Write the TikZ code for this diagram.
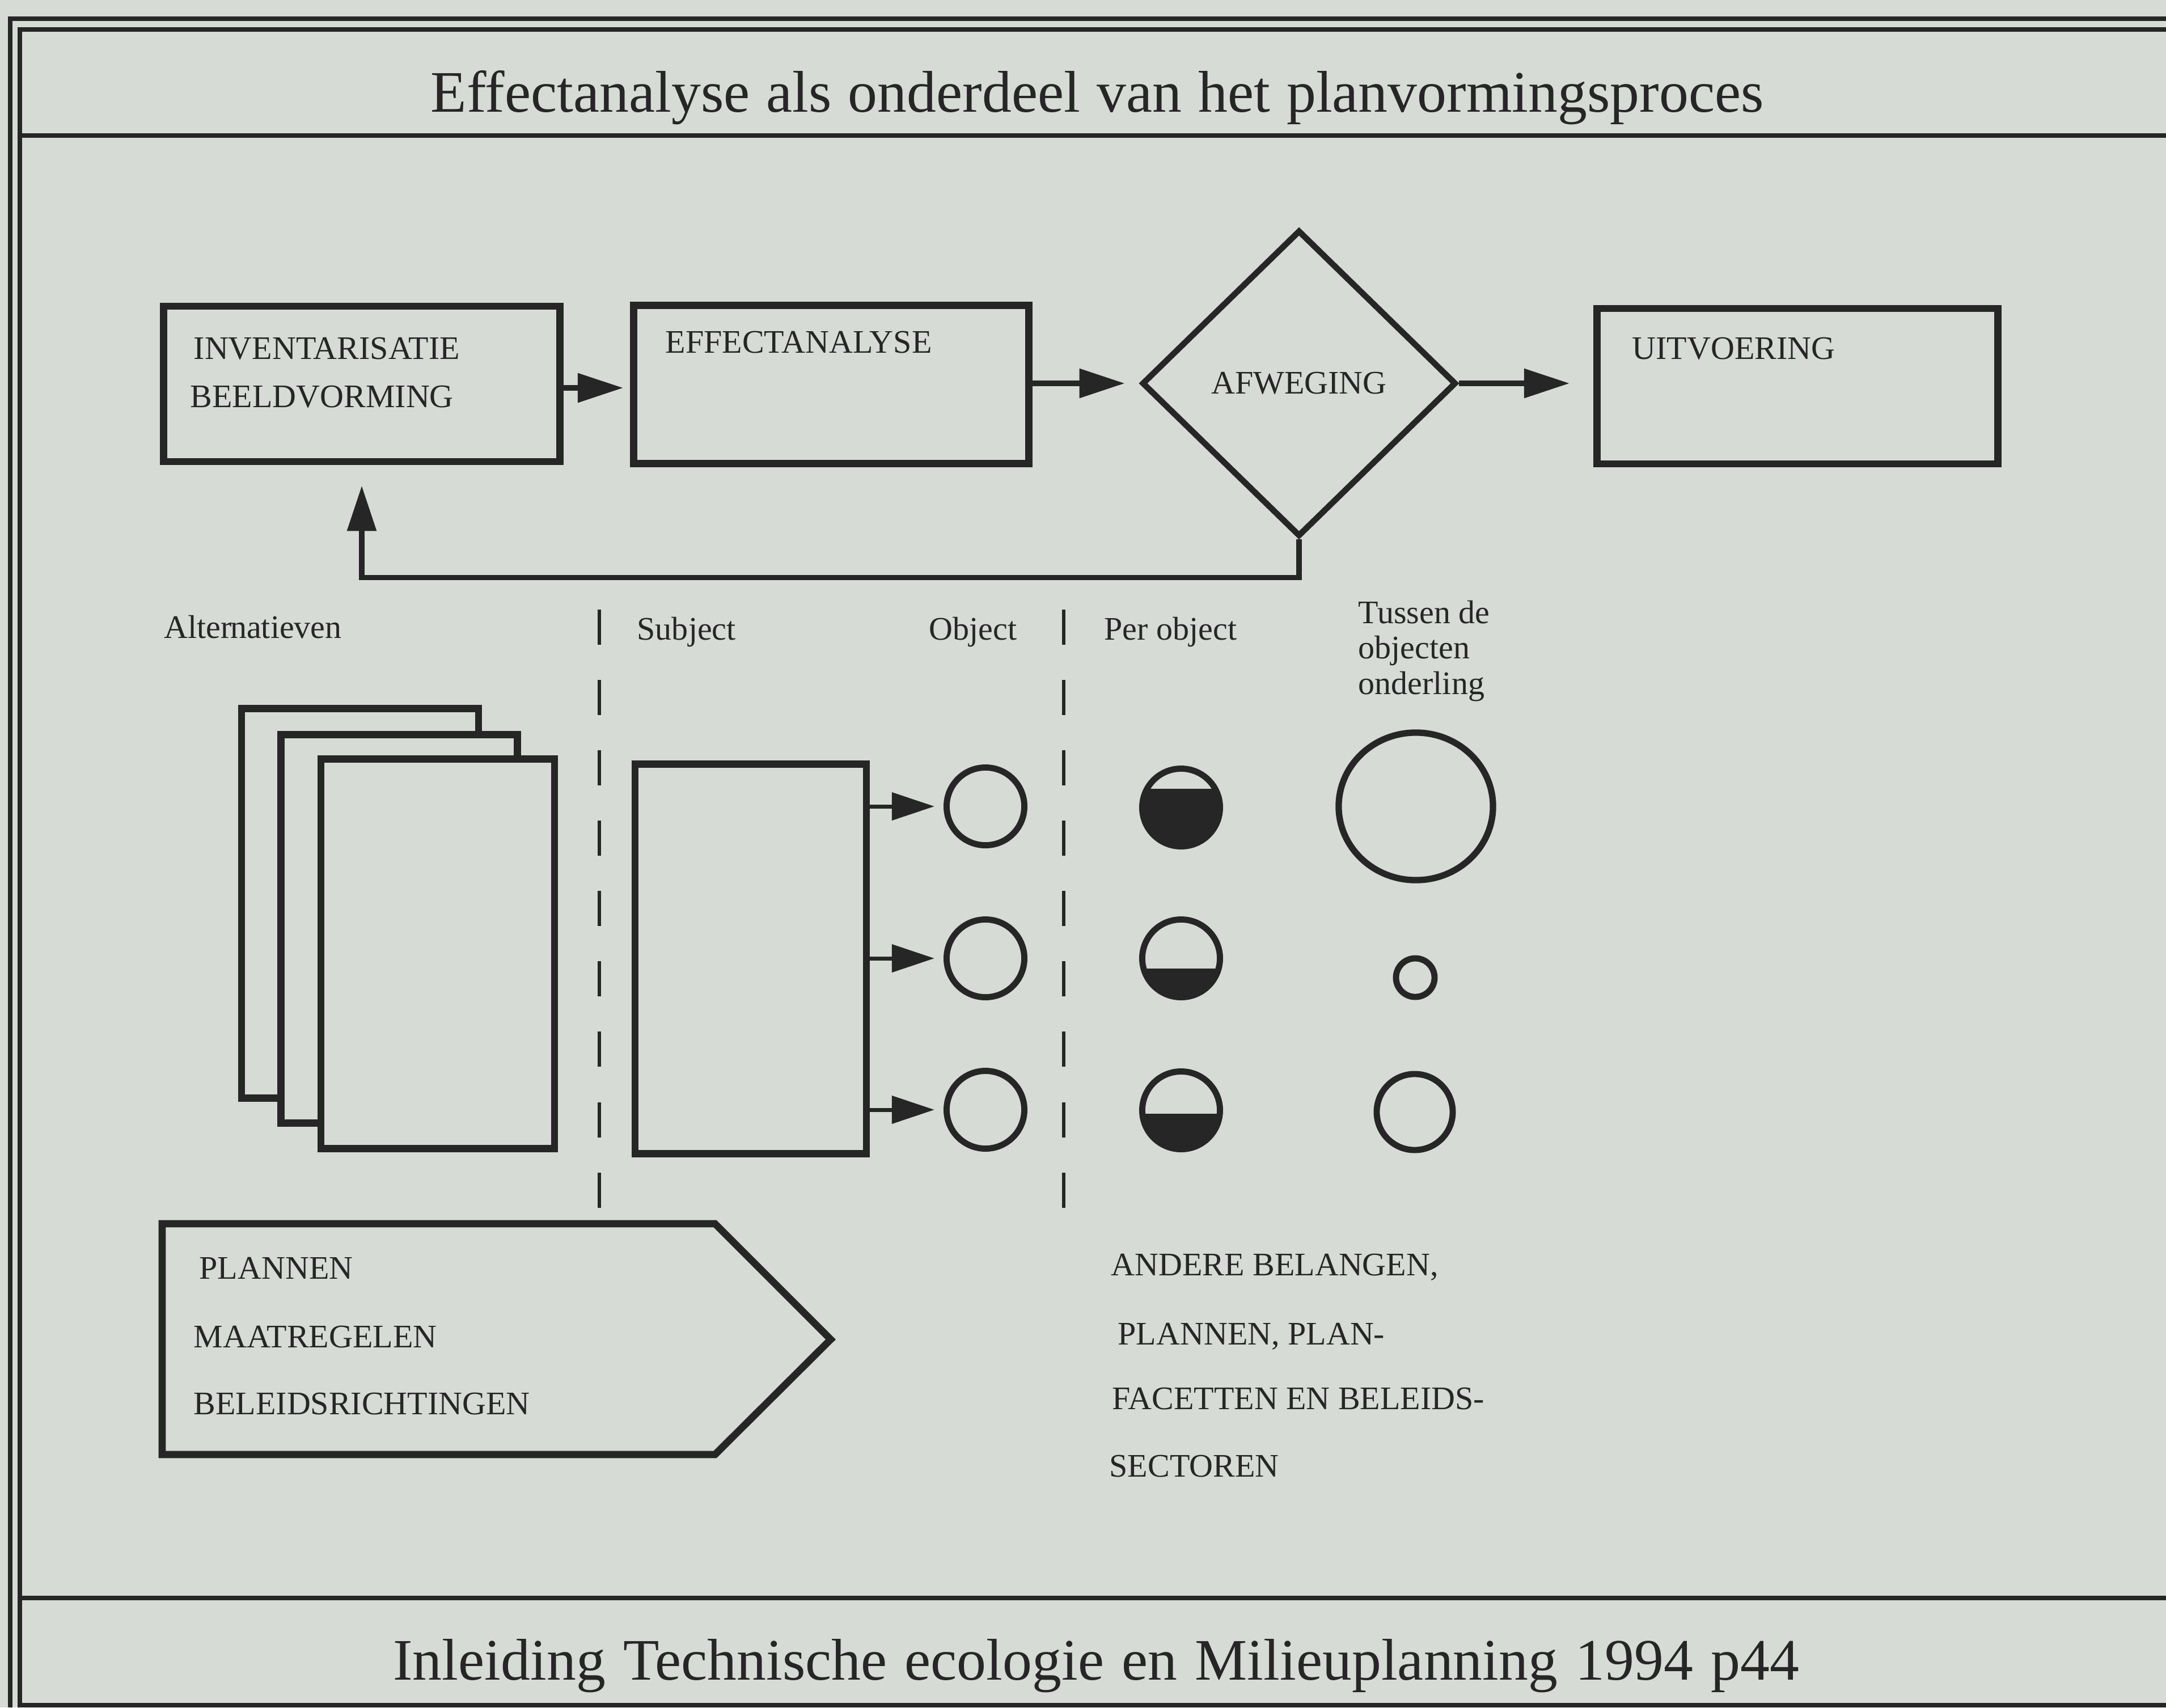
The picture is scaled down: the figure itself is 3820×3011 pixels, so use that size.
\documentclass[tikz,border=0pt]{standalone}
\usepackage{fontspec}
\setmainfont{Liberation Serif}
\usetikzlibrary{arrows.meta,shapes.geometric}
\definecolor{paper}{RGB}{214,219,213}
\definecolor{ink}{RGB}{38,38,38}
\tikzset{
  rule/.style={draw=ink, line width=2.1pt},
  pbox/.style={rectangle, draw=ink, line width=3.6pt, fill=paper, inner sep=0pt},
  lbl/.style={inner sep=0pt, anchor=base west, text=ink, font=\fontsize{16.5}{17.6}\selectfont},
  head/.style={inner sep=0pt, anchor=base, text=ink, font=\fontsize{29.5}{31}\selectfont},
  flow/.style={draw=ink, line width=2.6pt, -{Triangle[length=8mm,width=5mm]}},
  hit/.style={draw=ink, line width=2pt, -{Triangle[length=7.5mm,width=4.8mm]}},
  ring/.style={circle, draw=ink, line width=3.1pt, inner sep=0pt, minimum size=1.37cm},
  split/.style={draw=ink, line width=1.7pt, dash pattern=on 6.2mm off 6.2mm},
}
\begin{document}
\begin{tikzpicture}[x=0.01cm, y=-0.01cm]
  % paper and page size
  \fill[paper] (0,0) rectangle (3820,3011);
  \useasboundingbox (0,0) rectangle (3820,3011);

  % double frame, title rule and footer rule
  \draw[rule] (18,3011) -- (18,33) -- (3830,33);
  \draw[rule] (35,3011) -- (35,52) -- (3830,52);
  \draw[rule] (35,239) -- (3830,239);
  \draw[rule] (35,2818) -- (3830,2818);
  \draw[rule] (35,3007) -- (3830,3007);

  % heading and source line
  \node[head] (title) at (1935,197)
    {\makebox[23.49cm][s]{Effectanalyse als onderdeel van het planvormingsproces}};
  \node[head] (cite) at (1933,2962)
    {\makebox[24.78cm][s]{Inleiding Technische ecologie en Milieuplanning 1994 p44}};

  % planning cycle
  \node[pbox, minimum width=6.98cm, minimum height=2.74cm] (inv) at (638,677) {};
  \node[pbox, minimum width=6.97cm, minimum height=2.79cm] (eff) at (1466,678) {};
  \node[diamond, draw=ink, line width=3pt, fill=paper, inner sep=0pt,
        minimum width=5.54cm, minimum height=5.40cm,
        font=\fontsize{16.5}{17.6}\selectfont, text=ink] (afw) at (2291,676) {AFWEGING};
  \node[pbox, minimum width=7.07cm, minimum height=2.74cm] (uit) at (3170,681) {};

  \node[lbl] (inv1) at (341,633) {INVENTARISATIE};
  \node[lbl] (inv2) at (335,718) {BEELDVORMING};
  \node[lbl] (eff1) at (1173,622) {EFFECTANALYSE};
  \node[lbl] (uit1) at (2878,633) {UITVOERING};

  \draw[flow, shorten >=1.2mm] ([yshift=-0.07cm]inv.east) -- ([yshift=-0.07cm]inv.east -| eff.west);
  \draw[flow, shorten >=2.5mm] (eff.east |- afw.west) -- (afw.west);
  \draw[flow, shorten >=4.2mm] (afw.east) -- (afw.east -| uit.west);
  \draw[flow, shorten >=3.6mm] (afw.south) -- ++(0,67) -| (inv.south);

  % column headings
  \node[lbl] (alt) at (289,1125) {Alter\kern-0.8pt natieven};
  \node[lbl] (sub) at (1123,1128) {Subject};
  \node[lbl] (obj) at (1638,1128) {Object};
  \node[lbl] (per) at (1947,1128) {Per object};
  \node[lbl] (tus1) at (2395,1099) {Tussen de};
  \node[lbl] (tus2) at (2395,1161) {objecten};
  \node[lbl] (tus3) at (2395,1224) {onderling};

  % column separators
  \draw[split] (1057,1075) -- (1057,2130);
  \draw[split] (1876,1075) -- (1876,2130);

  % stack of alternatives
  \node[pbox, minimum width=4.18cm, minimum height=6.87cm] (alt3) at (635,1593) {};
  \node[pbox, minimum width=4.17cm, minimum height=6.84cm] (alt2) at (704,1638) {};
  \node[pbox, minimum width=4.12cm, minimum height=6.87cm] (alt1) at (772,1682) {};

  % subject and its objects
  \node[pbox, minimum width=4.08cm, minimum height=6.86cm] (subj) at (1324,1691) {};
  \node[ring] (o1) at (1738,1422) {};
  \node[ring] (o2) at (1738,1690) {};
  \node[ring] (o3) at (1738,1957) {};
  \foreach \k in {1,2,3}
    \draw[hit, shorten >=1.6mm] (subj.east |- o\k) -- (o\k.west);

  % effect per object: partly filled rings
  \foreach \k/\cy/\fy in {1/1424/1391, 2/1690/1708, 3/1958/1964} {
    \begin{scope}
      \clip (2083,\cy) circle (68.5);
      \fill[ink] (1990,\fy) rectangle (2180,\cy+90);
    \end{scope}
    \node[ring] (p\k) at (2083,\cy) {};
  }

  % effect between the objects
  \node[ellipse, draw=ink, line width=3.2pt, inner sep=0pt,
        minimum width=2.72cm, minimum height=2.60cm] (t1) at (2497,1422) {};
  \node[circle, draw=ink, line width=3.1pt, inner sep=0pt, minimum size=0.68cm] (t2) at (2496,1724) {};
  \node[circle, draw=ink, line width=3.1pt, inner sep=0pt, minimum size=1.34cm] (t3) at (2495,1961) {};

  % plans, measures, policies
  \draw[draw=ink, line width=3.6pt, line join=miter]
    (286,2158) -- (1261,2158) -- (1465,2362) -- (1261,2565) -- (286,2565) -- cycle;
  \node[lbl] (pl1) at (351,2255) {PLANNEN};
  \node[lbl] (pl2) at (341,2376) {MAATREGELEN};
  \node[lbl] (pl3) at (341,2494) {BELEIDSRICHTINGEN};

  % other interests
  \node[lbl] (an1) at (1959,2249) {ANDERE BELANGEN,};
  \node[lbl] (an2) at (1971,2371) {PLANNEN, PLAN-};
  \node[lbl] (an3) at (1961,2485) {FACETTEN EN BELEIDS-};
  \node[lbl] (an4) at (1956,2604) {SECTOREN};
\end{tikzpicture}
\end{document}
